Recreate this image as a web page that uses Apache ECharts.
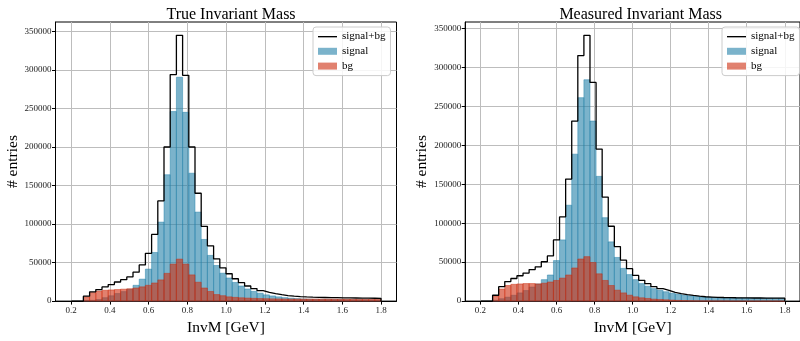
<!DOCTYPE html>
<html><head><meta charset="utf-8">
<script src="https://cdn.jsdelivr.net/npm/echarts@6/dist/echarts.min.js"></script>
<style>html,body{margin:0;padding:0;background:#fff}#c{width:800px;height:341px}</style>
</head><body><div id="c"></div>
<script>
// Histogram binning: 50 bins from 0.2 to 1.8 GeV
const binStart = 0.2;
const binEnd = 1.8;
const nBins = 50;
const xTicks = [0.2, 0.4, 0.6, 0.8, 1.0, 1.2, 1.4, 1.6, 1.8];
const yTicks = [0, 50000, 100000, 150000, 200000, 250000, 300000, 350000];
const titles = ['True Invariant Mass', 'Measured Invariant Mass'];

const trueSignal = [0,0,900,1000,2000,4400,6900,9800,12300,15400,
  20500,28500,41500,63100,102500,164000,246000,290500,245000,166000,
  115500,80000,59300,46200,36200,30000,24200,19600,15700,12600,
  10200,8100,6700,5500,4500,3800,3200,2800,2500,2300,
  2200,2000,1900,1800,1700,1700,1600,1600,1500,1500];
const trueBg = [0,0,5500,11000,13000,14000,14500,15000,15500,16000,
  17000,18500,20500,23500,27500,36000,48000,54500,48000,34000,
  24500,17000,12500,8500,7000,5500,4800,4300,3900,3600,
  3300,3100,2900,2800,2700,2600,2600,2600,2600,2600,
  2500,2500,2500,2400,2400,2300,2300,2200,2200,2100];
const measSignal = [0,0,1000,3000,5000,7500,10500,13500,18000,22000,
  27500,33500,52000,78500,123000,188500,261000,284000,231000,160000,
  107000,76000,56000,42000,34000,27500,22500,19000,16000,13800,
  12000,10000,8800,7600,6800,6000,5300,4900,4600,4400,
  4300,4200,4100,4000,3900,3900,3800,3800,3700,3700];
const measBg = [0,0,6500,15500,20000,21500,22000,22500,22500,22000,
  23000,24500,26500,29500,33500,42500,54000,57000,49500,35000,
  26500,20000,14000,10500,7600,5500,4200,3400,2500,2100,
  1700,1300,900,700,500,400,300,300,200,200,
  200,100,100,100,100,100,100,100,100,100];

const edges = [];
for (let i = 0; i <= nBins; i++) edges.push(+(binStart + (binEnd - binStart) * i / nBins).toFixed(4));

const FONT = '"Liberation Serif", "DejaVu Serif", serif';
const SIG = 'rgba(35,128,168,0.6)';
const BG = 'rgba(205,45,15,0.6)';

function histSeries(name, values, color, idx) {
  return {
    type: 'custom', name: name, xAxisIndex: idx, yAxisIndex: idx,
    itemStyle: { color: color },
    encode: { x: [0, 1], y: 2 },
    data: values.map((v, i) => [edges[i], edges[i + 1], v]),
    renderItem: function (params, api) {
      const v = api.value(2);
      if (!v) return null;
      const p0 = api.coord([api.value(0), v]);
      const p1 = api.coord([api.value(1), 0]);
      return {
        type: 'rect',
        shape: { x: p0[0], y: p0[1], width: p1[0] - p0[0], height: p1[1] - p0[1] },
        style: { fill: color, stroke: color, lineWidth: 0.8 }
      };
    },
    z: 2
  };
}
function stepSeries(sig, bg, idx) {
  const pts = [[edges[0], 0]];
  for (let i = 0; i < nBins; i++) pts.push([edges[i], sig[i] + bg[i]]);
  pts.push([edges[nBins], sig[nBins - 1] + bg[nBins - 1]]);
  pts.push([edges[nBins], 0]);
  return {
    type: 'line', name: 'signal+bg', xAxisIndex: idx, yAxisIndex: idx,
    step: 'end', data: pts, symbol: 'none', showSymbol: false,
    lineStyle: { color: '#000', width: 1.3 }, itemStyle: { color: '#000' },
    z: 5, animation: false
  };
}
const sets = [[trueSignal, trueBg], [measSignal, measBg]];
const grids = [
  { left: 55.5, right: 403.5, top: 22, bottom: 35 },
  { left: 465.2, right: -6.2, top: 22, bottom: 35 }
];
const xAxes = [], yAxes = [], series = [], titleArr = [], legends = [];
sets.forEach((s, k) => {
  const totals = s[0].map((v, i) => v + s[1][i]);
  const ymax = 1.05 * Math.max.apply(null, totals);
  grids[k].show = true; grids[k].borderColor = '#000'; grids[k].borderWidth = 1;
  xAxes.push({
    type: 'value', gridIndex: k, min: 0.12, max: 1.88,
    name: 'InvM [GeV]', nameLocation: 'middle', nameGap: 17,
    nameTextStyle: { fontFamily: FONT, fontSize: 15.5, color: '#000', verticalAlign: 'top' },
    axisLine: { show: true, lineStyle: { color: '#000', width: 1 } },
    axisTick: { show: true, length: 3.5, customValues: xTicks, lineStyle: { color: '#000' } },
    axisLabel: { customValues: xTicks, fontFamily: FONT, fontSize: 9, color: '#222', margin: 5,
      formatter: v => v.toFixed(1) },
    splitLine: { show: true, lineStyle: { color: '#bdbdbd', width: 1 } }
  });
  yAxes.push({
    type: 'value', gridIndex: k, min: 0, max: ymax,
    name: '# entries', nameLocation: 'middle', nameGap: 28,
    nameTextStyle: { fontFamily: FONT, fontSize: 15.5, color: '#000' },
    axisLine: { show: true, lineStyle: { color: '#000', width: 1 } },
    axisTick: { show: true, length: 3.5, customValues: yTicks, lineStyle: { color: '#000' } },
    axisLabel: { customValues: yTicks, fontFamily: FONT, fontSize: 9, color: '#222', margin: 4,
      formatter: v => String(Math.round(v)) },
    splitLine: { show: true, lineStyle: { color: '#bdbdbd', width: 1 } }
  });
  series.push(histSeries('signal', s[0], SIG, k));
  series.push(histSeries('bg', s[1], BG, k));
  series.push(stepSeries(s[0], s[1], k));
  const gl = grids[k].left, gr = 800 - grids[k].right;
  titleArr.push({
    text: titles[k], left: (gl + gr) / 2, top: 2, textAlign: 'center',
    textStyle: { fontFamily: FONT, fontSize: 16, fontWeight: 'normal', color: '#000' }
  });
  legends.push({
    orient: 'vertical', left: k === 0 ? 313 : 722, top: 27,
    padding: [4, 5, 4, 5], itemWidth: 19, itemHeight: 7, itemGap: 3.8,
    backgroundColor: 'rgba(255,255,255,0.85)', borderColor: '#cccccc', borderWidth: 1, borderRadius: 3,
    textStyle: { fontFamily: FONT, fontSize: 11, color: '#000', lineHeight: 10 },
    selectedMode: false,
    data: [
      { name: 'signal+bg', icon: 'path://M0,0 L0,0 M0,3 L20,3 L20,4.4 L0,4.4 Z M20,7 L20,7', itemStyle: { color: '#000' } },
      { name: 'signal', icon: 'rect' },
      { name: 'bg', icon: 'rect' }
    ]
  });
});

const chart = echarts.init(document.getElementById('c'), null, { renderer: 'canvas' });
chart.setOption({
  animation: false,
  backgroundColor: '#fff',
  title: titleArr,
  legend: legends,
  grid: grids,
  xAxis: xAxes,
  yAxis: yAxes,
  series: series
});
</script></body></html>
